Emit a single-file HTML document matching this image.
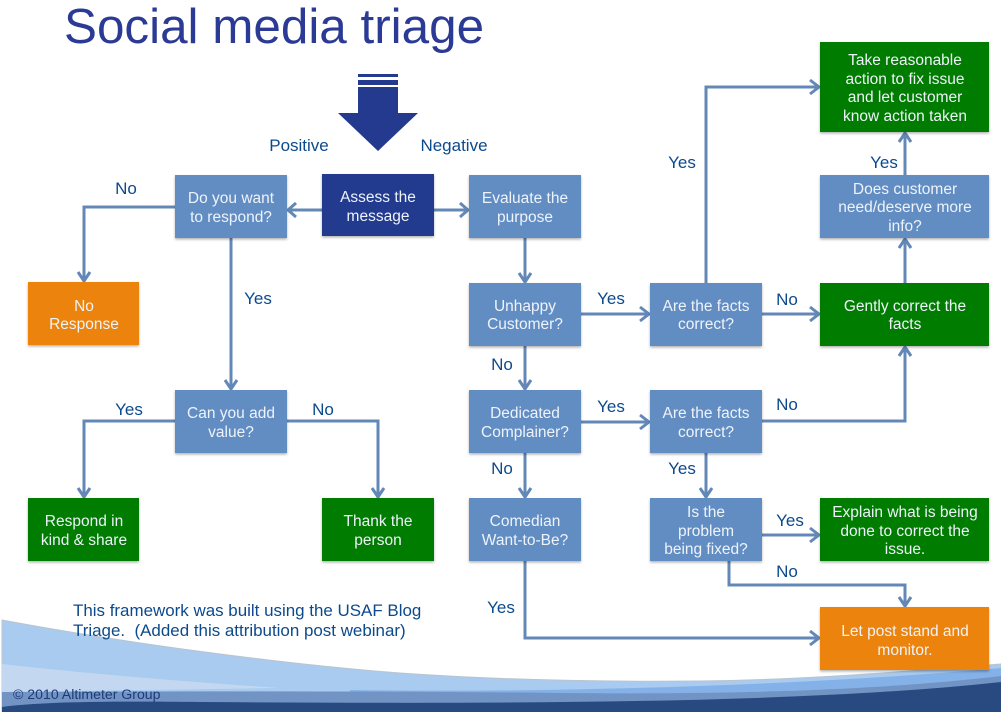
<!DOCTYPE html>
<html><head><meta charset="utf-8"><style>
html,body{margin:0;padding:0;background:#fff}
svg{display:block}
text{font-family:"Liberation Sans",sans-serif}
.b{font-size:15.5px;fill:#eef3fa;text-anchor:middle}
.l{font-size:17px;fill:#0c4a8c;text-anchor:middle}
.c{fill:none;stroke:#6388b7;stroke-width:3}
.h{fill:none;stroke:#6388b7;stroke-width:3}
</style></head><body>
<svg width="1001" height="712" viewBox="0 0 1001 712" xmlns="http://www.w3.org/2000/svg">
<defs>
<filter id="s" x="-5%" y="-5%" width="110%" height="115%"><feDropShadow dx="0" dy="1.5" stdDeviation="1.2" flood-color="#000" flood-opacity=".3"/></filter>
</defs>
<!-- footer -->
<path d="M2 620 C120 642 280 664 400 673 C500 680 600 682 700 681 C800 680 900 672 1001 664 V712 H2Z" fill="#a9cbef" stroke="#b9c4cf" stroke-width="1"/>
<path d="M2 664 C90 674 190 682 280 688 L2 692Z" fill="#c3d8f0"/>
<path d="M350 690 C550 693 800 686 1001 668 V680 C800 695 600 696 350 693Z" fill="#84b2e8"/>
<path d="M2 692 C200 691 400 691 560 693 C760 695 900 688 1001 676 V712 H2Z" fill="#7194c4"/>
<path d="M2 707 C40 702 100 701 200 702 C500 704 800 704 1001 682 V712 H2Z" fill="#284a80"/>
<text x="13" y="699" font-size="14.1" fill="#1f3a78">© 2010 Altimeter Group</text>
<text x="64" y="43" font-size="49.4" fill="#2b3a94">Social media triage</text>
<!-- big arrow -->
<g fill="#233a8f"><rect x="358" y="74" width="40" height="3"/><rect x="358" y="80" width="40" height="5"/><path d="M358 87H398V113H418L378 151 338 113H358Z"/></g>
<!-- connectors -->
<g class="c">
<path d="M322 210H289"/><path d="M434 210H467"/>
<path d="M175 207H84V280"/><path d="M231 238V388"/>
<path d="M175 421H84V496"/><path d="M287 421H378V496"/>
<path d="M525 238V281"/><path d="M525 346V388"/><path d="M525 453V496"/>
<path d="M581 314H648"/><path d="M581 422H648"/><path d="M762 314H818"/>
<path d="M706 283V87H818"/><path d="M905 283V240"/><path d="M905 175V134"/>
<path d="M762 421H905V348"/><path d="M706 453V496"/>
<path d="M762 535H818"/><path d="M729 561V585H905V605"/>
<path d="M525 561V638H818"/>
</g>
<!-- arrowheads -->
<g class="h">
<path d="M296 203L288 210 296 217"/><path d="M460 203L468 210 460 217"/>
<path d="M78 272L84 281 90 272"/><path d="M225 380L231 389 237 380"/>
<path d="M78 488L84 497 90 488"/><path d="M372 488L378 497 384 488"/>
<path d="M519 273L525 282 531 273"/><path d="M519 380L525 389 531 380"/><path d="M519 488L525 497 531 488"/>
<path d="M640 307L649 314 640 321"/><path d="M640 415L649 422 640 429"/><path d="M810 307L819 314 810 321"/>
<path d="M810 80L819 87 810 94"/>
<path d="M899 248L905 239 911 248"/><path d="M899 142L905 133 911 142"/><path d="M899 356L905 347 911 356"/>
<path d="M700 488L706 497 712 488"/><path d="M810 528L819 535 810 542"/>
<path d="M899 597L905 606 911 597"/><path d="M810 631L819 638 810 645"/>
</g>
<!-- boxes -->
<g filter="url(#s)">
<rect x="322" y="174" width="112" height="62" fill="#233a8f"/>
<g fill="#628dc3">
<rect x="175" y="175" width="112" height="63"/><rect x="469" y="175" width="112" height="63"/>
<rect x="469" y="283" width="112" height="63"/><rect x="650" y="283" width="112" height="63"/>
<rect x="820" y="175" width="169" height="63"/><rect x="175" y="390" width="112" height="63"/>
<rect x="469" y="390" width="112" height="63"/><rect x="650" y="390" width="112" height="63"/>
<rect x="469" y="498" width="112" height="63"/><rect x="650" y="498" width="112" height="63"/>
</g>
<g fill="#ec8308"><rect x="28" y="282" width="111" height="63"/><rect x="820" y="607" width="169" height="63"/></g>
<g fill="#007c00">
<rect x="820" y="42" width="169" height="90"/><rect x="820" y="283" width="169" height="63"/>
<rect x="28" y="498" width="111" height="63"/><rect x="322" y="498" width="112" height="63"/>
<rect x="820" y="498" width="169" height="63"/>
</g>
</g>
<!-- box text -->
<text class="b" x="378" y="202">Assess the</text><text class="b" x="378" y="221">message</text>
<text class="b" x="231" y="203">Do you want</text><text class="b" x="231" y="222">to respond?</text>
<text class="b" x="525" y="203">Evaluate the</text><text class="b" x="525" y="222">purpose</text>
<text class="b" x="84" y="311">No</text><text class="b" x="84" y="329">Response</text>
<text class="b" x="525" y="311">Unhappy</text><text class="b" x="525" y="329">Customer?</text>
<text class="b" x="706" y="311">Are the facts</text><text class="b" x="706" y="329">correct?</text>
<text class="b" x="905" y="311">Gently correct the</text><text class="b" x="905" y="329">facts</text>
<text class="b" x="905" y="65">Take reasonable</text><text class="b" x="905" y="84">action to fix issue</text><text class="b" x="905" y="102">and let customer</text><text class="b" x="905" y="121">know action taken</text>
<text class="b" x="905" y="194">Does customer</text><text class="b" x="905" y="212">need/deserve more</text><text class="b" x="905" y="231">info?</text>
<text class="b" x="231" y="418">Can you add</text><text class="b" x="231" y="437">value?</text>
<text class="b" x="525" y="418">Dedicated</text><text class="b" x="525" y="437">Complainer?</text>
<text class="b" x="706" y="418">Are the facts</text><text class="b" x="706" y="437">correct?</text>
<text class="b" x="84" y="526">Respond in</text><text class="b" x="84" y="545">kind &amp; share</text>
<text class="b" x="378" y="526">Thank the</text><text class="b" x="378" y="545">person</text>
<text class="b" x="525" y="526">Comedian</text><text class="b" x="525" y="545">Want-to-Be?</text>
<text class="b" x="706" y="517">Is the</text><text class="b" x="706" y="536">problem</text><text class="b" x="706" y="554">being fixed?</text>
<text class="b" x="905" y="517">Explain what is being</text><text class="b" x="905" y="536">done to correct the</text><text class="b" x="905" y="554">issue.</text>
<text class="b" x="905" y="636">Let post stand and</text><text class="b" x="905" y="655">monitor.</text>
<!-- labels -->
<text class="l" x="299" y="151">Positive</text><text class="l" x="454" y="151">Negative</text>
<text class="l" x="126" y="194">No</text><text class="l" x="258" y="304">Yes</text>
<text class="l" x="129" y="415">Yes</text><text class="l" x="323" y="415">No</text>
<text class="l" x="502" y="370">No</text><text class="l" x="502" y="474">No</text><text class="l" x="501" y="613">Yes</text>
<text class="l" x="611" y="304">Yes</text><text class="l" x="611" y="412">Yes</text>
<text class="l" x="787" y="305">No</text><text class="l" x="787" y="410">No</text>
<text class="l" x="682" y="168">Yes</text><text class="l" x="884" y="168">Yes</text>
<text class="l" x="682" y="474">Yes</text><text class="l" x="790" y="526">Yes</text><text class="l" x="787" y="577">No</text>
<text x="73" y="616" font-size="16.95" fill="#0c4a8c">This framework was built using the USAF Blog</text>
<text x="73" y="636" font-size="16.95" fill="#0c4a8c" xml:space="preserve">Triage.  (Added this attribution post webinar)</text>
</svg>
</body></html>
